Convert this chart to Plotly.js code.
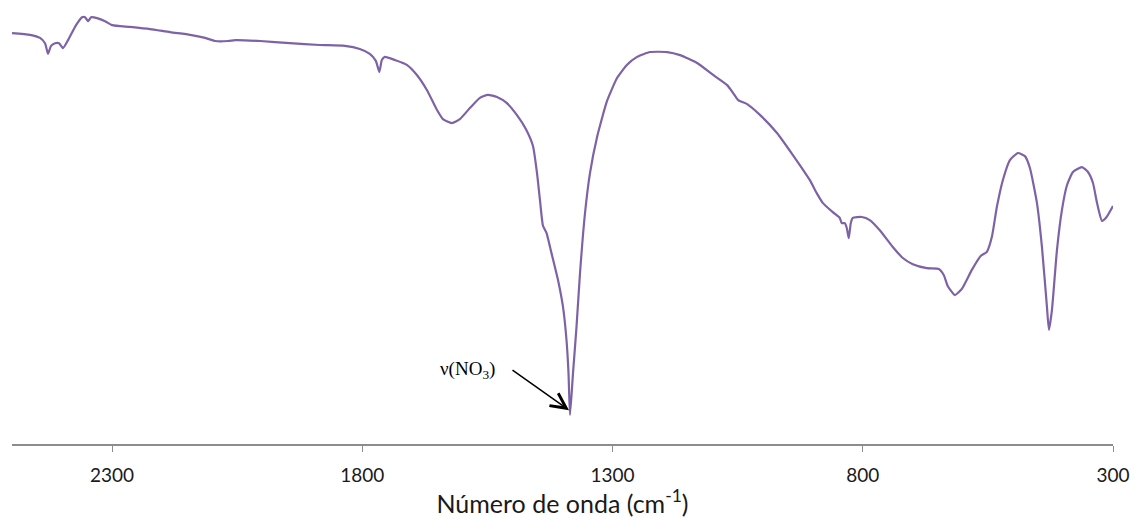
<!DOCTYPE html>
<html>
<head>
<meta charset="utf-8">
<script src="https://cdn.plot.ly/plotly-3.0.1.min.js"></script>
<style>
  html, body { margin: 0; padding: 0; background: #fff; }
  #chart { width: 1134px; height: 518px; }
</style>
</head>
<body>
<div id="chart"></div>
<script>
// IR spectrum: wavenumber (cm-1) and transmittance (%)
const wavenumber = [
  2500, 2464, 2444, 2434, 2428, 2422, 2414, 2406, 2398, 2388,
  2372, 2360, 2354, 2348, 2342, 2330, 2314, 2300, 2264, 2224,
  2184, 2144, 2114, 2094, 2068, 2054, 2004, 1945, 1885, 1835,
  1805, 1785, 1773, 1766, 1761, 1755, 1735, 1711, 1691, 1671,
  1651, 1639, 1621, 1605, 1585, 1565, 1549, 1531, 1511, 1491,
  1473, 1459, 1451, 1445, 1439, 1432, 1422, 1409, 1399, 1392,
  1388, 1385, 1379, 1372, 1365, 1355, 1345, 1331, 1311, 1291,
  1271, 1251, 1225, 1191, 1165, 1131, 1099, 1071, 1059, 1049,
  1031, 1005, 971, 940, 906, 892, 880, 860, 846, 842,
  836, 832, 828, 824, 820, 802, 786, 766, 740, 720,
  700, 672, 648, 638, 630, 616, 602, 582, 564, 552,
  542, 532, 520, 506, 490, 476, 466, 452, 442, 432,
  428, 422, 412, 402, 392, 380, 362, 350, 340, 332,
  322, 314, 300
];
const transmittance = [
  92.5, 92.1, 91.4, 90.2, 87.8, 89.6, 90.2, 90.2, 89.1, 90.9,
  94.3, 96.1, 96.1, 95.2, 96.1, 95.9, 95.2, 94.3, 93.9, 93.4,
  92.7, 92.1, 91.4, 90.7, 90.7, 90.9, 90.7, 90.2, 89.8, 89.6,
  88.9, 87.8, 86.2, 83.7, 86.4, 87.1, 86.4, 85.3, 83.0, 79.6,
  75.1, 73.0, 72.1, 73.0, 75.5, 77.8, 78.5, 78.0, 76.6, 73.9,
  70.7, 66.9, 60.8, 54.6, 48.8, 47.2, 42.6, 36.5, 30.4, 22.9,
  15.4, 5.9, 15.4, 25.9, 38.1, 51.7, 60.8, 68.9, 77.1, 82.3,
  85.3, 87.1, 88.2, 88.2, 87.5, 85.7, 83.0, 80.7, 78.9, 77.3,
  76.4, 73.9, 69.8, 64.9, 59.2, 56.2, 54.0, 51.9, 50.6, 49.4,
  49.4, 48.3, 46.0, 49.4, 50.6, 50.8, 50.1, 47.8, 44.0, 41.5,
  40.1, 39.2, 39.0, 37.6, 35.1, 33.1, 34.5, 38.8, 42.0, 42.9,
  46.3, 53.1, 59.2, 63.7, 65.3, 64.6, 61.9, 54.0, 44.0, 30.4,
  25.2, 29.7, 43.3, 52.4, 58.0, 61.0, 62.1, 61.0, 58.5, 54.0,
  49.9, 50.6, 53.3
];
const tickValues = [2300, 1800, 1300, 800, 300];
const bandLabel = 'ν(NO<sub>3</sub>)';
const bandPoint = { wn: 1387, t: 7.0 };

const trace = {
  x: wavenumber,
  y: transmittance,
  type: 'scatter',
  mode: 'lines',
  line: { color: '#7d62a6', width: 2.2, shape: 'spline', smoothing: 0.5 },
  hoverinfo: 'x+y'
};

const layout = {
  width: 1134,
  height: 518,
  margin: { l: 12, r: 21, t: 0, b: 74 },
  paper_bgcolor: '#ffffff',
  plot_bgcolor: '#ffffff',
  showlegend: false,
  font: { family: 'Lato, "Open Sans", sans-serif', color: '#1a1a1a' },
  xaxis: {
    range: [2500, 300],
    autorange: false,
    tickmode: 'array',
    tickvals: tickValues,
    ticktext: tickValues.map(String),
    ticks: 'outside',
    ticklen: 6,
    tickwidth: 1,
    tickcolor: '#8c8c8c',
    ticklabelstandoff: 8,
    showline: true,
    linecolor: '#8c8c8c',
    linewidth: 1.5,
    showgrid: false,
    zeroline: false,
    tickfont: { size: 19, family: 'Lato, sans-serif', color: '#1a1a1a' },
    title: {
      text: 'Número de onda (cm<sup>-1</sup>)',
      font: { size: 25, family: 'Lato, sans-serif', color: '#1a1a1a' },
      standoff: 2
    }
  },
  yaxis: {
    range: [-0.68, 100],
    autorange: false,
    visible: false
  },
  annotations: [
    {
      x: bandPoint.wn, y: bandPoint.t, xref: 'x', yref: 'y',
      text: '', showarrow: true,
      arrowhead: 5, arrowsize: 2, arrowwidth: 1.5, arrowcolor: '#000',
      ax: -58, ay: -41
    },
    {
      x: bandPoint.wn, y: bandPoint.t, xref: 'x', yref: 'y',
      text: bandLabel, showarrow: false,
      xshift: -102, yshift: 40,
      font: { family: '"Liberation Serif", "DejaVu Serif", serif', size: 19, color: '#000' }
    }
  ]
};

Plotly.newPlot('chart', [trace], layout, { displayModeBar: false, staticPlot: true });
</script>
</body>
</html>
